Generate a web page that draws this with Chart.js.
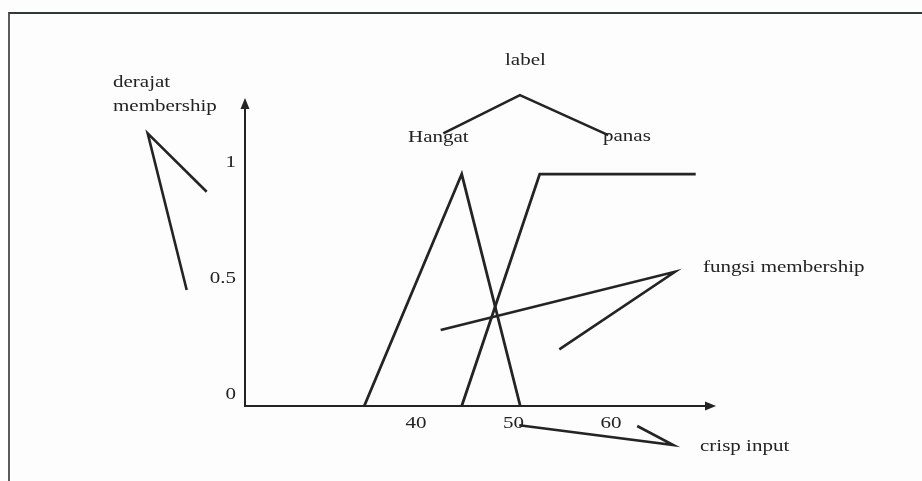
<!DOCTYPE html>
<html>
<head>
<meta charset="utf-8">
<script src="https://cdn.jsdelivr.net/npm/chart.js@4"></script>
<style>
  html, body { margin: 0; padding: 0; background: #fdfdfd; }
  #wrap { position: relative; width: 922px; height: 481px; }
  #frame {
    position: absolute; left: 8px; top: 12px; right: 0; bottom: 0;
    border-top: 2px solid #2e3a3a; border-left: 2px solid #5a5a5a;
  }
  canvas { position: absolute; left: 0; top: 0; }
</style>
</head>
<body>
<div id="wrap">
  <div id="frame"></div>
  <canvas id="c" width="922" height="481"></canvas>
</div>
<script>
// Membership functions of the input temperature
const hangatX = [35, 45, 51];
const hangatY = [0, 1, 0];
const panasX = [45, 53, 69];
const panasY = [0, 1, 1];

// Axis tick labels
const xTickValues = [40, 50, 60];
const xTickLabels = ['40', '50', '60'];
const yTickValues = [0, 0.5, 1];
const yTickLabels = ['0', '0.5', '1'];

// Callout texts and their pointer strokes, in axis units
const calloutTexts = [
  { text: 'label', x: 49.44, y: 1.4698 },
  { text: 'derajat', x: 9.23, y: 1.3750 },
  { text: 'membership', x: 9.23, y: 1.2716 },
  { text: 'Hangat', x: 39.49, y: 1.1379 },
  { text: 'panas', x: 59.49, y: 1.1422 },
  { text: 'fungsi membership', x: 69.74, y: 0.5776 },
  { text: 'crisp input', x: 69.44, y: -0.1940 }
];
const calloutStrokes = [
  [[18.84, 0.9237], [12.79, 1.1754], [16.79, 0.5000]],
  [[43.11, 1.1754], [50.97, 1.3405], [60.03, 1.1681]],
  [[42.84, 0.3276], [66.87, 0.5789], [55.01, 0.2444]],
  [[50.90, -0.0832], [66.70, -0.1681], [63.00, -0.0862]]
];

const INK = '#242424';
const TEXT = '#222222';
const FONT = '17.5px "Liberation Serif", "Times New Roman", serif';
const STRETCH = 1.2;

function toPoints(xs, ys) {
  return xs.map((x, i) => ({ x: x, y: ys[i] }));
}

function wideText(ctx, str, x, y, align) {
  ctx.save();
  ctx.translate(x, y);
  ctx.scale(STRETCH, 1);
  ctx.textAlign = align || 'left';
  ctx.textBaseline = 'alphabetic';
  ctx.fillText(str, 0, 0);
  ctx.restore();
}

const diagramPlugin = {
  id: 'diagram',
  beforeDatasetsDraw(chart) {
    const ctx = chart.ctx;
    const xs = chart.scales.x, ys = chart.scales.y;
    const x0 = xs.getPixelForValue(xs.min);
    const x1 = xs.getPixelForValue(xs.max);
    const y0 = ys.getPixelForValue(0);
    const y1 = ys.getPixelForValue(ys.max);
    ctx.save();
    ctx.strokeStyle = INK;
    ctx.fillStyle = INK;
    ctx.lineWidth = 2;
    // y axis with arrow
    ctx.beginPath();
    ctx.moveTo(x0, y0 + 1);
    ctx.lineTo(x0, y1 + 6);
    ctx.stroke();
    ctx.beginPath();
    ctx.moveTo(x0, y1);
    ctx.lineTo(x0 - 4.5, y1 + 11);
    ctx.lineTo(x0 + 4.5, y1 + 11);
    ctx.closePath();
    ctx.fill();
    // x axis with arrow
    ctx.beginPath();
    ctx.moveTo(x0 - 1, y0);
    ctx.lineTo(x1 - 6, y0);
    ctx.stroke();
    ctx.beginPath();
    ctx.moveTo(x1, y0);
    ctx.lineTo(x1 - 11, y0 - 4.5);
    ctx.lineTo(x1 - 11, y0 + 4.5);
    ctx.closePath();
    ctx.fill();
    ctx.restore();
  },
  afterDatasetsDraw(chart) {
    const ctx = chart.ctx;
    const xs = chart.scales.x, ys = chart.scales.y;
    ctx.save();
    // pointer strokes
    ctx.strokeStyle = INK;
    ctx.lineWidth = 2.6;
    ctx.lineJoin = 'miter';
    ctx.lineCap = 'butt';
    calloutStrokes.forEach(path => {
      ctx.beginPath();
      path.forEach((p, i) => {
        const px = xs.getPixelForValue(p[0]);
        const py = ys.getPixelForValue(p[1]);
        if (i === 0) ctx.moveTo(px, py); else ctx.lineTo(px, py);
      });
      ctx.stroke();
    });
    // texts
    ctx.fillStyle = TEXT;
    ctx.font = FONT;
    calloutTexts.forEach(t => {
      wideText(ctx, t.text, xs.getPixelForValue(t.x), ys.getPixelForValue(t.y), 'left');
    });
    // tick labels
    const yBase = ys.getPixelForValue(0);
    xTickValues.forEach((v, i) => {
      wideText(ctx, xTickLabels[i], xs.getPixelForValue(v) + 3, yBase + 22, 'center');
    });
    const xLeft = xs.getPixelForValue(xs.min);
    yTickValues.forEach((v, i) => {
      wideText(ctx, yTickLabels[i], xLeft - 9, ys.getPixelForValue(v) - 7, 'right');
    });
    ctx.restore();
  }
};

new Chart(document.getElementById('c'), {
  type: 'scatter',
  data: {
    datasets: [
      {
        label: 'Hangat',
        data: toPoints(hangatX, hangatY),
        showLine: true,
        borderColor: INK,
        borderWidth: 2.8,
        pointRadius: 0,
        tension: 0,
        clip: false
      },
      {
        label: 'panas',
        data: toPoints(panasX, panasY),
        showLine: true,
        borderColor: INK,
        borderWidth: 2.8,
        pointRadius: 0,
        tension: 0,
        clip: false
      }
    ]
  },
  options: {
    responsive: false,
    devicePixelRatio: 1,
    animation: false,
    layout: { padding: { left: 245, right: 206, top: 98, bottom: 75 } },
    plugins: {
      legend: { display: false },
      tooltip: { enabled: false }
    },
    scales: {
      x: { type: 'linear', min: 22.77, max: 71.08, display: false },
      y: { type: 'linear', min: 0, max: 1.328, display: false }
    }
  },
  plugins: [diagramPlugin]
});
</script>
</body>
</html>
